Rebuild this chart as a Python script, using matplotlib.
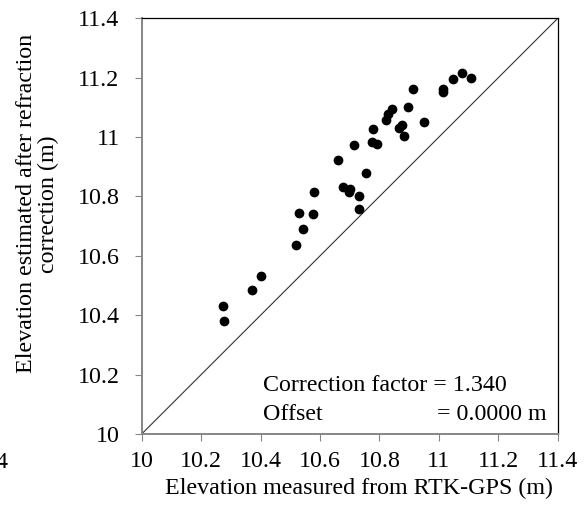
import matplotlib
matplotlib.use('Agg')
from matplotlib import pyplot as plt

# RTK-GPS measured elevation (m) vs elevation estimated after refraction correction (m)
measured = [10.914, 10.895, 10.951, 10.841, 10.830, 10.821, 10.780, 10.876, 10.867,
            10.882, 10.716, 10.775, 10.793, 10.660, 10.755, 10.679, 10.701, 10.697,
            10.731, 10.731, 10.580, 10.529, 10.576, 10.543, 10.520, 10.401, 10.370,
            11.077, 11.049, 11.107, 11.015, 11.013, 10.275, 10.278]
estimated = [11.162, 11.101, 11.052, 11.096, 11.078, 11.056, 11.027, 11.040, 11.031,
             11.003, 10.972, 10.983, 10.978, 10.923, 10.880, 10.831, 10.826, 10.815,
             10.800, 10.757, 10.816, 10.744, 10.742, 10.690, 10.636, 10.532, 10.485,
             11.217, 11.196, 11.200, 11.161, 11.151, 10.430, 10.380]

ticks = [10, 10.2, 10.4, 10.6, 10.8, 11, 11.2, 11.4]
tick_labels = ['10', '10.2', '10.4', '10.6', '10.8', '11', '11.2', '11.4']
one_to_one = [10, 11.4]

plt.rcParams['font.family'] = ['Liberation Serif', 'DejaVu Serif']
plt.rcParams['font.size'] = 17.3

fig = plt.figure(figsize=(5.88, 5.07), dpi=100)
ax = fig.add_axes([0.241, 0.144, 0.7075, 0.8198])

ax.plot(one_to_one, one_to_one, color='#333333', lw=0.8)
ax.scatter(measured, estimated, s=36, color='black', zorder=3)

ax.set_xlim(10, 11.4)
ax.set_ylim(10, 11.4)
ax.set_xticks(ticks)
ax.set_xticklabels(tick_labels)
ax.set_yticks(ticks)
ax.set_yticklabels(tick_labels)

#Excel-style axes: gray axis lines, black plot-area frame
gray = '#868686'
ax.spines['left'].set_color(gray)
ax.spines['bottom'].set_color(gray)
ax.spines['left'].set_linewidth(1.4)
ax.spines['bottom'].set_linewidth(1.4)
ax.spines['top'].set_color('black')
ax.spines['right'].set_color('black')
ax.spines['top'].set_linewidth(0.9)
ax.spines['right'].set_linewidth(0.9)
ax.tick_params(axis='both', direction='out', length=5, width=0.8, color=gray)
ax.tick_params(axis='x', pad=7)
ax.tick_params(axis='y', pad=11)

ax.text(0.291, 0.104, 'Correction factor = 1.340', transform=ax.transAxes,
        ha='left', va='baseline')
ax.text(0.291, 0.0337, 'Offset', transform=ax.transAxes, ha='left', va='baseline')
ax.text(0.7106, 0.0337, '= 0.0000 m', transform=ax.transAxes, ha='left', va='baseline')

fig.text(0.611, 0.037, 'Elevation measured from RTK-GPS (m)', ha='center', va='center')
fig.text(0.064, 0.598, 'Elevation estimated after refraction\ncorrection (m)',
         rotation=90, ha='center', va='center', multialignment='center',
         linespacing=1.1)

#Piece of a neighbouring chart's tick label at the left edge
fig.text(7 / 588, 1 - 462 / 507, '4', ha='right', va='center')

fig.savefig('out.png', dpi=100)
